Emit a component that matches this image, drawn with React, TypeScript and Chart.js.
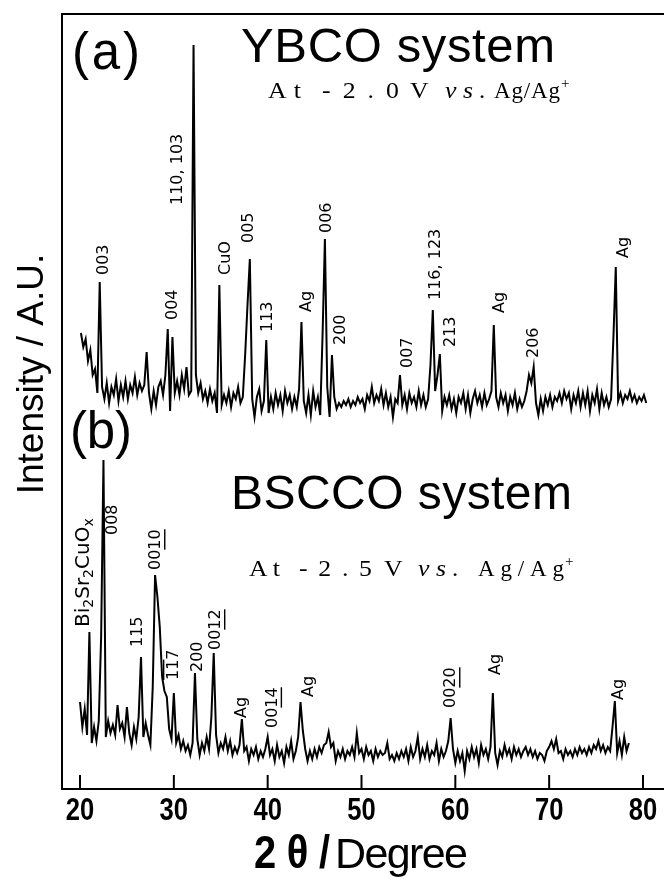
import React, { useEffect, useRef } from 'react';
import { Chart, registerables } from 'chart.js';

Chart.register(...registerables);

// ---------- data ----------
const X_TICKS = [20, 30, 40, 50, 60, 70, 80];
const STEP = 0.25; // 2θ step of the scans (deg)
const YBCO_START = 20.1;
const BSCCO_START = 20.0;

// (a) YBCO system, intensity (A.U.), one value per step
const YBCO_INTENSITY = [
  72, 58, 66, 44, 55, 30, 36, 12, 123, 18,
  6, 22, 2, 18, 10, 26, 4, 20, 8, 24,
  6, 20, 12, 28, 10, 22, 14, 20, 53, 12,
  -4, 14, 0, 18, 24, 10, 30, 76, -6, 68,
  12, 24, 10, 30, 16, 38, 10, 14, 360, 30,
  12, 22, 6, 14, 2, 16, 4, 12, -8, 120,
  0, 10, 2, 14, -2, 12, 6, 18, 2, 8,
  50, 100, 146, 6, -12, 8, 16, -6, 4, 65,
  -8, 8, -4, 12, 0, 10, -6, 14, 2, 10,
  -4, 8, -2, 16, 83, 4, -8, 10, -10, 14,
  -2, 8, -10, 70, 166, 18, -12, 50, 8, -4,
  2, -2, 4, 0, 6, -2, 4, 0, 8, 2,
  6, -4, 10, 4, 18, 2, 10, 4, 16, 0,
  12, -2, 8, -12, 6, 2, 30, 0, 10, -4,
  12, 2, 8, -2, 14, 0, 10, -2, 6, 40,
  95, 14, 30, 51, -6, 8, 0, 10, -4, 6,
  -8, 8, 2, 12, -4, 10, -8, 6, 14, 2,
  10, -2, 12, 0, 6, 14, 80, 8, -2, 12,
  2, 10, -6, 8, 0, 12, -4, 6, -2, 4,
  14, 30, 22, 38, 2, -10, 6, -6, 8, 0,
  10, -2, 8, 4, 12, 2, 14, 6, 12, -4,
  10, 2, 14, -2, 12, 0, 14, -6, 10, 2,
  16, -4, 12, 0, 8, -2, 6, 68, 138, 4,
  12, 2, 10, 6, 14, 4, 10, 2, 8, 4,
  10, 2,
];

// (b) BSCCO system
const BSCCO_INTENSITY = [
  55, 30, 48, 22, 125, 14, 30, 16, 36, 120,
  297, 20, 36, 24, 32, 22, 52, 28, 34, 20,
  50, 24, 12, 30, 18, 40, 100, 20, 34, 22,
  12, 70, 182, 160, 130, 80, 66, 60, 28, 18,
  64, 14, 22, 8, 16, 6, 12, 2, 14, 84,
  18, 2, 14, 6, 20, 8, 40, 104, 22, 4,
  14, 8, 20, 6, 16, 2, 10, 4, 12, 38,
  6, 10, -4, 8, 2, 10, -2, 6, 0, 8,
  20, 2, 8, -4, 12, 0, 6, -6, 10, 2,
  16, -2, 6, 20, 55, 26, 8, -4, 6, -2,
  8, 0, 10, 4, 12, 14, 25, 10, 14, -4,
  6, 0, 8, -2, 6, 2, 10, 0, 24, 4,
  8, -2, 10, 2, 6, -4, 8, 0, 6, 2,
  4, 14, -2, 2, -4, 4, -2, 6, 0, 8,
  -4, 10, 0, 6, 20, -2, 8, 0, 12, -2,
  6, 2, 14, -4, 8, 0, 6, 16, 39, 8,
  -6, 6, -4, 4, -14, 6, -2, 10, 0, 8,
  -6, 12, 2, 8, -2, 10, 64, 4, -8, 6,
  0, 12, 2, 8, -2, 10, 2, 8, 0, 6,
  10, 2, 8, 0, 6, -2, 4, 2, -4, 6,
  10, 16, 8, 18, 4, 6, -2, 8, 2, 6,
  0, 8, 2, 10, 4, 8, 2, 10, 4, 12,
  8, 16, 6, 12, 4, 10, 6, 30, 56, 4,
  16, 2, 20, 6, 14,
];

// vertical stacking of the two patterns (A.U.)
const YBCO_OFFSET = 385;
const BSCCO_OFFSET = 33;

// peak labels: [text, 2θ of label, intensity at label start, decoration]
const YBCO_PEAK_LABELS: [string, number, number, string?][] = [
  ['003', 23.02, 515],
  ['004', 30.31, 470],
  ['110, 103', 30.87, 585],
  ['CuO', 35.99, 515],
  ['005', 38.44, 547],
  ['113', 40.46, 458],
  ['Ag', 44.67, 478],
  ['006', 46.75, 557],
  ['200', 48.24, 445],
  ['007', 55.35, 422],
  ['116, 123', 58.37, 490],
  ['213', 59.97, 443],
  ['Ag', 65.24, 477],
  ['206', 68.81, 432],
  ['Ag', 78.4, 532],
];

const BSCCO_PEAK_LABELS: [string, number, number, string?][] = [
  ['Bi_2Sr_2CuO_x', 20.96, 163],
  ['008', 23.91, 255],
  ['0010', 28.53, 220, 'u2'],
  ['115', 26.58, 143],
  ['117', 30.44, 110, 'o2'],
  ['200', 32.97, 118],
  ['0012', 34.92, 140, 'u2'],
  ['Ag', 37.74, 72],
  ['0014', 40.96, 62, 'u2'],
  ['Ag', 44.83, 93],
  ['0020', 59.97, 82, 'u2'],
  ['Ag', 64.71, 115],
  ['Ag', 77.92, 90],
];

// ---------- drawing helpers ----------
function drawSpaced(ctx: CanvasRenderingContext2D, text: string, x0: number, x1: number, y: number, sx = 1) {
  const chars = [...text];
  const ws = chars.map((c) => ctx.measureText(c).width * sx);
  const W = ws.reduce((a, b) => a + b, 0);
  const gap = chars.length > 1 ? (x1 - x0 - W) / (chars.length - 1) : 0;
  let x = x0;
  chars.forEach((c, i) => {
    ctx.save();
    ctx.translate(x, y);
    ctx.scale(sx, 1);
    ctx.textAlign = 'left';
    ctx.fillText(c, 0, 0);
    ctx.restore();
    x += ws[i] + gap;
  });
}

function drawPeakLabel(ctx: CanvasRenderingContext2D, px: number, py: number, text: string, deco?: string) {
  ctx.save();
  ctx.translate(px, py);
  ctx.rotate(-Math.PI / 2);
  ctx.textAlign = 'left';
  ctx.textBaseline = 'alphabetic';
  if (text.includes('_')) {
    let x = 0;
    for (let i = 0; i < text.length; i++) {
      if (text[i] === '_') {
        ctx.font = '14px "DejaVu Sans"';
        ctx.fillText(text[i + 1], x, 4);
        x += ctx.measureText(text[i + 1]).width;
        i++;
      } else {
        ctx.font = '20px "DejaVu Sans"';
        ctx.fillText(text[i], x, 0);
        x += ctx.measureText(text[i]).width;
      }
    }
  } else {
    ctx.font = '16px "DejaVu Sans"';
    ctx.fillText(text, 0, 0);
    const w = ctx.measureText(text).width;
    if (deco && deco[0] === 'u') {
      const n = parseInt(deco.slice(1), 10);
      const w0 = ctx.measureText(text.slice(0, text.length - n)).width;
      ctx.fillRect(w0, 4, w - w0, 1.4);
    } else if (deco && deco[0] === 'o') {
      const n = parseInt(deco.slice(1), 10);
      const w1 = ctx.measureText(text.slice(0, n)).width;
      ctx.fillRect(0, -15, w1, 1.4);
    }
  }
  ctx.restore();
}

const annotations = {
  id: 'annotations',
  beforeDraw(chart: any) {
    const ctx = chart.ctx as CanvasRenderingContext2D;
    ctx.save();
    ctx.fillStyle = '#fff';
    ctx.fillRect(0, 0, chart.width, chart.height);
    ctx.restore();
  },
  afterDraw(chart: any) {
    const ctx = chart.ctx as CanvasRenderingContext2D;
    const xs = chart.scales.x;
    const ys = chart.scales.y;
    const ca = chart.chartArea;
    ctx.save();
    ctx.fillStyle = '#000';
    ctx.strokeStyle = '#000';

    // frame (top, left, bottom)
    ctx.lineWidth = 2;
    ctx.beginPath();
    ctx.moveTo(ca.right, ca.top);
    ctx.lineTo(ca.left, ca.top);
    ctx.lineTo(ca.left, ca.bottom - 1);
    ctx.lineTo(ca.right, ca.bottom - 1);
    ctx.stroke();

    // ticks (inward) and tick labels
    const tickVals: number[] = xs.ticks && xs.ticks.length ? xs.ticks.map((t: any) => t.value) : X_TICKS;
    ctx.font = 'bold 32px "Liberation Sans"';
    tickVals.forEach((v) => {
      const px = xs.getPixelForValue(v);
      ctx.beginPath();
      ctx.moveTo(px, ca.bottom - 1);
      ctx.lineTo(px, ca.bottom - 15);
      ctx.stroke();
      ctx.save();
      ctx.translate(px, ca.bottom + 30);
      ctx.scale(0.8, 1);
      ctx.textAlign = 'center';
      ctx.fillText(String(v), 0, 0);
      ctx.restore();
    });

    // x axis title
    ctx.font = 'bold 47px "Liberation Sans"';
    drawSpaced(ctx, '2θ/', 254, 330, 868, 0.85);
    ctx.font = '43px "Liberation Sans"';
    drawSpaced(ctx, 'Degree', 335, 468, 868);

    // y axis title
    ctx.save();
    ctx.translate(43, 374);
    ctx.rotate(-Math.PI / 2);
    ctx.font = '37px "Liberation Sans"';
    ctx.textAlign = 'center';
    ctx.fillText('Intensity / A.U.', 0, 0);
    ctx.restore();

    // panel titles
    ctx.textAlign = 'left';
    ctx.font = '51px "Liberation Sans"';
    drawSpaced(ctx, '(a)', 72, 140, 69);
    drawSpaced(ctx, '(b)', 70, 132, 448);
    ctx.font = '49px "Liberation Sans"';
    drawSpaced(ctx, 'YBCO system', 241, 555, 62);
    ctx.font = '48px "Liberation Sans"';
    drawSpaced(ctx, 'BSCCO system', 231, 572, 509);

    // potential lines
    const potential = (y: number, v: string, p: number[]) => {
      ctx.font = '23px "Liberation Serif"';
      drawSpaced(ctx, 'At', p[0], p[1], y, 1.12);
      drawSpaced(ctx, v, p[2], p[3], y, 1.12);
      drawSpaced(ctx, 'V', p[4], p[4] + 18, y, 1.12);
      ctx.font = 'italic 23px "Liberation Serif"';
      drawSpaced(ctx, 'vs.', p[5], p[6], y, 1.12);
      ctx.font = '23px "Liberation Serif"';
      drawSpaced(ctx, 'Ag/Ag', p[7], p[8], y, 1.0);
      ctx.font = '15px "Liberation Serif"';
      ctx.fillText('+', p[8] + 1, y - 10);
    };
    potential(98, '-2.0', [268, 301, 322, 399, 410, 445, 486, 494, 560]);
    potential(576, '-2.5', [249, 280, 299, 372, 384, 418, 459, 478, 564]);

    // peak labels
    YBCO_PEAK_LABELS.forEach(([t, x, y, d]) => drawPeakLabel(ctx, xs.getPixelForValue(x), ys.getPixelForValue(y), t, d));
    BSCCO_PEAK_LABELS.forEach(([t, x, y, d]) => drawPeakLabel(ctx, xs.getPixelForValue(x), ys.getPixelForValue(y), t, d));

    ctx.restore();
  },
};

export default function App() {
  const ref = useRef<HTMLCanvasElement>(null);
  useEffect(() => {
    if (!ref.current) return;
    const chart = new Chart(ref.current, {
      type: 'line',
      data: {
        datasets: [
          {
            label: 'YBCO',
            data: YBCO_INTENSITY.map((v, i) => ({ x: YBCO_START + i * STEP, y: v + YBCO_OFFSET })),
            borderColor: '#000',
            borderWidth: 2,
            pointRadius: 0,
            fill: false,
            tension: 0,
          },
          {
            label: 'BSCCO',
            data: BSCCO_INTENSITY.map((v, i) => ({ x: BSCCO_START + i * STEP, y: v + BSCCO_OFFSET })),
            borderColor: '#000',
            borderWidth: 2,
            pointRadius: 0,
            fill: false,
            tension: 0,
          },
        ],
      },
      options: {
        animation: false,
        responsive: false,
        devicePixelRatio: 1,
        events: [],
        layout: { padding: { left: 62, top: 14, right: 0, bottom: 89 } },
        plugins: { legend: { display: false }, tooltip: { enabled: false } },
        scales: {
          x: {
            type: 'linear',
            min: 18.08,
            max: 82.24,
            display: false,
            afterBuildTicks: (s: any) => {
              s.ticks = X_TICKS.map((v) => ({ value: v }));
            },
          },
          y: { type: 'linear', min: 0, max: 776, display: false },
        },
      },
      plugins: [annotations],
    });
    return () => chart.destroy();
  }, []);
  return (
    <div style={{ position: 'fixed', left: 0, top: 0, width: 664, height: 879, background: '#fff' }}>
      <canvas ref={ref} width={664} height={879} style={{ display: 'block' }} />
    </div>
  );
}
